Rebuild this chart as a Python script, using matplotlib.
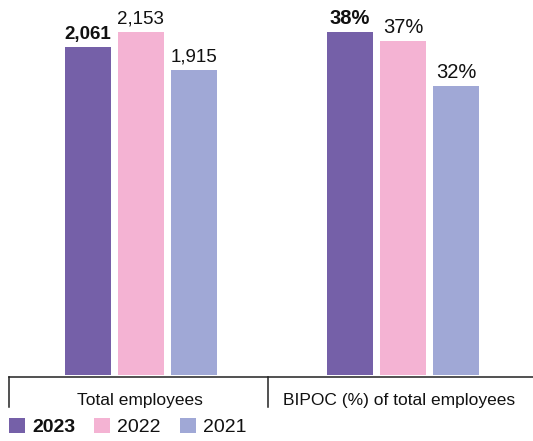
import matplotlib
matplotlib.use("Agg")
import matplotlib.pyplot as plt
from matplotlib.patches import Patch
from matplotlib.lines import Line2D

plt.rcParams['font.family'] = ['Liberation Sans', 'DejaVu Sans']

years = ["2023", "2022", "2021"]
colors = ["#7560A8", "#F4B3D3", "#A0A8D6"]
categories = ["Total employees", "BIPOC (%) of total employees"]
total_employees = [2061, 2153, 1915]
total_labels = ["2,061", "2,153", "1,915"]
bipoc_pct = [38, 37, 32]
bipoc_labels = ["38%", "37%", "32%"]

W, H = 533, 441
fig = plt.figure(figsize=(W / 100, H / 100), dpi=100)

def fx(px):
    return px / W

def fy(py):
    return 1 - py / H

base_y = 375
top_y = 32
ax_b = fy(base_y)
ax_h = (base_y - top_y) / H

ax1 = fig.add_axes([fx(9), ax_b, fx(259), ax_h])
ax2 = fig.add_axes([fx(268), ax_b, fx(265), ax_h])

groups = [
    (ax1, total_employees, total_labels, (-1.49, 3.40), 13.5),
    (ax2, bipoc_pct, bipoc_labels, (-1.55, 3.45), 14.5),
]

for ax, vals, labs, xl, fs in groups:
    xs = range(len(vals))
    bars = ax.bar(xs, vals, width=0.87, color=colors)
    ax.set_ylim(0, max(vals))
    ax.set_xlim(*xl)
    for i, (b, lab) in enumerate(zip(bars, labs)):
        ax.annotate(lab, (b.get_x() + b.get_width() / 2, b.get_height()),
                    xytext=(0, 5.8), textcoords='offset points',
                    ha='center', va='baseline', fontsize=fs,
                    fontweight='bold' if i == 0 else 'normal',
                    color='#111111', annotation_clip=False)
    ax.axis('off')

# baseline and separators
fig.add_artist(Line2D([fx(9), 1.0], [fy(377), fy(377)], color='#222222', lw=1.1))
for xp in (9, 268):
    fig.add_artist(Line2D([fx(xp), fx(xp)], [fy(377), fy(407)], color='#222222', lw=1.1))

fig.text(fx(140), fy(405), categories[0], ha='center', va='baseline', fontsize=12.5, color='#111111')
fig.text(fx(399), fy(405), categories[1], ha='center', va='baseline', fontsize=12.5, color='#111111')

handles = [Patch(facecolor=c, edgecolor='none') for c in colors]
leg = fig.legend(handles, years, loc='lower left', bbox_to_anchor=(fx(9), fy(436)),
                 ncol=3, frameon=False, fontsize=14, handlelength=0.82, handleheight=0.82,
                 handletextpad=0.36, columnspacing=0.98, borderpad=0, borderaxespad=0)
leg.get_texts()[0].set_fontweight('bold')
for t in leg.get_texts():
    t.set_color('#111111')

fig.savefig("out.png", dpi=100)
